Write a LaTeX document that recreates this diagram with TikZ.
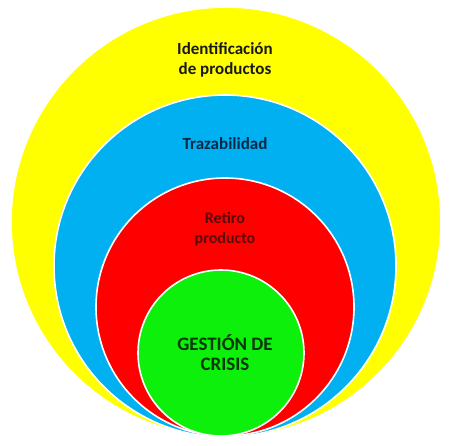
\documentclass[tikz,border=0pt]{standalone}
\usepackage{fontspec}
\setmainfont{Carlito}
\usepackage{xcolor}
\usetikzlibrary{positioning,calc}
\definecolor{ringyellow}{RGB}{255,255,0}
\definecolor{ringblue}{RGB}{0,176,240}
\definecolor{ringred}{RGB}{255,0,0}
\definecolor{ringgreen}{RGB}{12,240,12}
\definecolor{txtblue}{RGB}{10,40,70}
\definecolor{txtred}{RGB}{90,8,8}
\definecolor{txtgreen}{RGB}{10,55,10}
\definecolor{txtblack}{RGB}{25,25,25}

\begin{document}
\begin{tikzpicture}[x=1pt,y=-1pt,
        ring/.style={circle, draw=white, line width=1.6pt, inner sep=0pt},
        lbl/.style={align=center, font=\bfseries\fontsize{#1}{20}\selectfont}]
        \useasboundingbox (0,0) rectangle (450,445);
        % Rings, all touching at the bottom
        \node[ring, fill=ringyellow, minimum size=430pt] (identif) at (226,222) {};
        \node[ring, fill=ringblue, minimum size=342pt] (traza) at (225,266) {};
        \node[ring, fill=ringred, minimum size=258pt] (retiro) at (225,307) {};
        \node[ring, fill=ringgreen, minimum size=166pt] (crisis) at (221,353) {};
        % Labels
        \node[lbl=17, text=txtblack] (identiftxt) at (225,60) {Identificación\\de productos};
        \node[lbl=17, text=txtblue] (trazatxt) at (225,144) {Trazabilidad};
        \node[lbl=16, text=txtred] (retirotxt) at (225,229) {Retiro\\producto};
        \node[lbl=19, text=txtgreen] (crisistxt) at (225,353) {GESTIÓN DE\\CRISIS};
    \end{tikzpicture}
\end{document}
